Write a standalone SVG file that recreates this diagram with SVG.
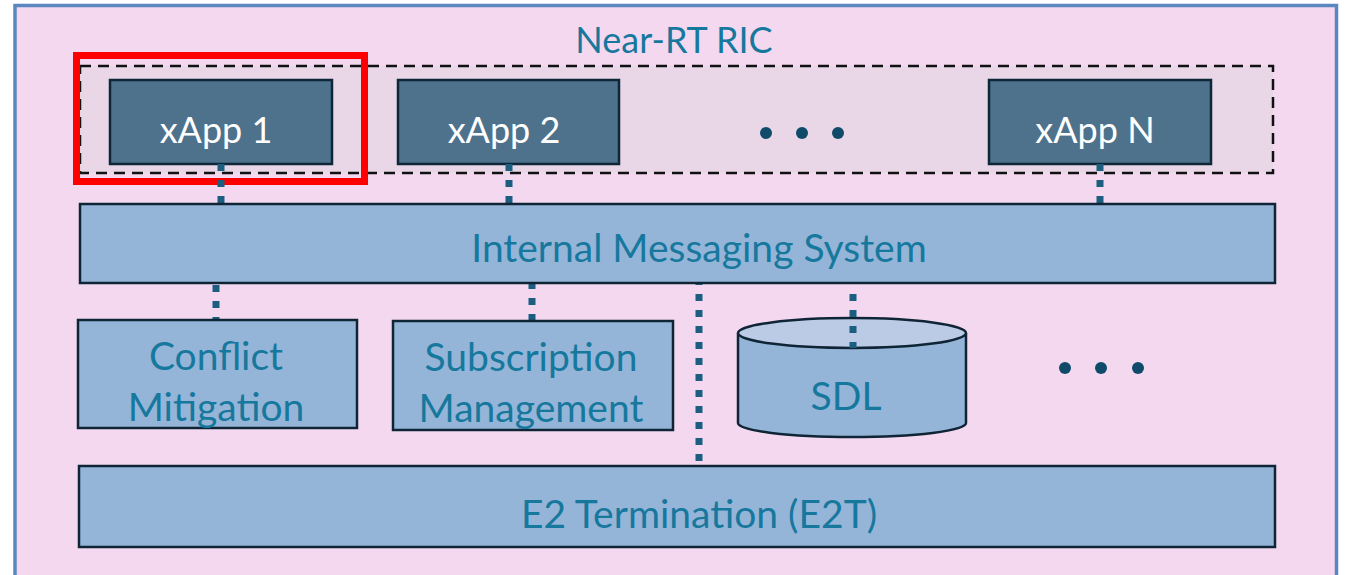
<svg xmlns="http://www.w3.org/2000/svg" width="1348" height="575" viewBox="0 0 1348 575">
  <style>
    .box { fill: #94b5d8; stroke: #0f2536; stroke-width: 2.5; }
    .app { fill: #4e728c; stroke: #0d2638; stroke-width: 2.5; }
    .lbl { font-family: Lato, "Liberation Sans", sans-serif; font-size: 39px; fill: #17789e; text-anchor: middle; }
    .title { font-family: Lato, "Liberation Sans", sans-serif; font-size: 36px; fill: #17789e; text-anchor: middle; }
    .applbl { font-family: Lato, "Liberation Sans", sans-serif; font-size: 36px; fill: #ffffff; text-anchor: middle; }
    .link { stroke: #1b5e80; stroke-width: 7; stroke-dasharray: 7 9; fill: none; }
    .dot { fill: #0f4a68; }
  </style>

  <rect width="1348" height="575" fill="#ffffff"/>

  <!-- RIC platform frame -->
  <g id="near-rt-ric">
    <rect x="15" y="5.5" width="1321.5" height="580" fill="#f3d8f0" stroke="#5b87c0" stroke-width="3.5"/>
    <text x="674" y="53" class="title">Near-RT RIC</text>
  </g>

  <!-- xApp tier -->
  <g id="xapp-tier">
    <rect x="80" y="66" width="1193" height="107" fill="#e9d7e8" stroke="#111111" stroke-width="2.5" stroke-dasharray="11 7"/>
  </g>

  <g id="xapp-1">
    <rect x="110" y="80" width="222" height="84" class="app"/>
    <text x="216" y="143" class="applbl">xApp 1</text>
  </g>
  <g id="xapp-2">
    <rect x="398" y="80" width="221" height="84" class="app"/>
    <text x="504" y="143" class="applbl">xApp 2</text>
  </g>
  <g id="xapp-n">
    <rect x="989" y="80" width="222" height="84" class="app"/>
    <text x="1095" y="143" class="applbl">xApp N</text>
  </g>
  <g id="xapp-more">
    <circle cx="766" cy="133" r="6" class="dot"/>
    <circle cx="802" cy="133" r="6" class="dot"/>
    <circle cx="838" cy="133" r="6" class="dot"/>
  </g>

  <!-- highlight -->
  <g id="highlight">
    <rect x="76.5" y="55.5" width="288" height="126" fill="none" stroke="#ff0000" stroke-width="7"/>
  </g>

  <!-- connectors -->
  <g id="connectors">
    <line x1="221" y1="164" x2="221" y2="204" class="link"/>
    <line x1="509" y1="164" x2="509" y2="204" class="link"/>
    <line x1="1100" y1="164" x2="1100" y2="204" class="link"/>
    <line x1="216" y1="285" x2="216" y2="320" class="link"/>
    <line x1="532" y1="282" x2="532" y2="321" class="link"/>
    <line x1="699" y1="278" x2="699" y2="476" class="link"/>
  </g>

  <g id="internal-messaging">
    <rect x="80" y="204" width="1195" height="79" class="box"/>
    <text x="699" y="262" class="lbl">Internal Messaging System</text>
  </g>

  <g id="conflict-mitigation">
    <rect x="78" y="320" width="279" height="108" class="box"/>
    <text x="216" y="370" class="lbl">Conflict</text>
    <text x="216" y="421" class="lbl">Mitigation</text>
  </g>

  <g id="subscription-management">
    <rect x="393" y="321" width="280" height="109" class="box"/>
    <text x="531" y="371" class="lbl">Subscription</text>
    <text x="531" y="422" class="lbl">Management</text>
  </g>

  <g id="sdl">
    <path d="M738,333 L738,423 A114,14 0 0 0 966,423 L966,333" class="box"/>
    <ellipse cx="852" cy="333" rx="114" ry="15" fill="#bccbe5" stroke="#0f2536" stroke-width="2.5"/>
    <line x1="853" y1="294" x2="853" y2="348" class="link"/>
    <text x="846" y="410" class="lbl">SDL</text>
  </g>

  <g id="platform-more">
    <circle cx="1065" cy="368" r="6" class="dot"/>
    <circle cx="1101" cy="368" r="6" class="dot"/>
    <circle cx="1138" cy="368" r="6" class="dot"/>
  </g>

  <g id="e2-termination">
    <rect x="79" y="466" width="1196" height="81" class="box"/>
    <text x="699" y="528" class="lbl">E2 Termination (E2T)</text>
  </g>
</svg>
